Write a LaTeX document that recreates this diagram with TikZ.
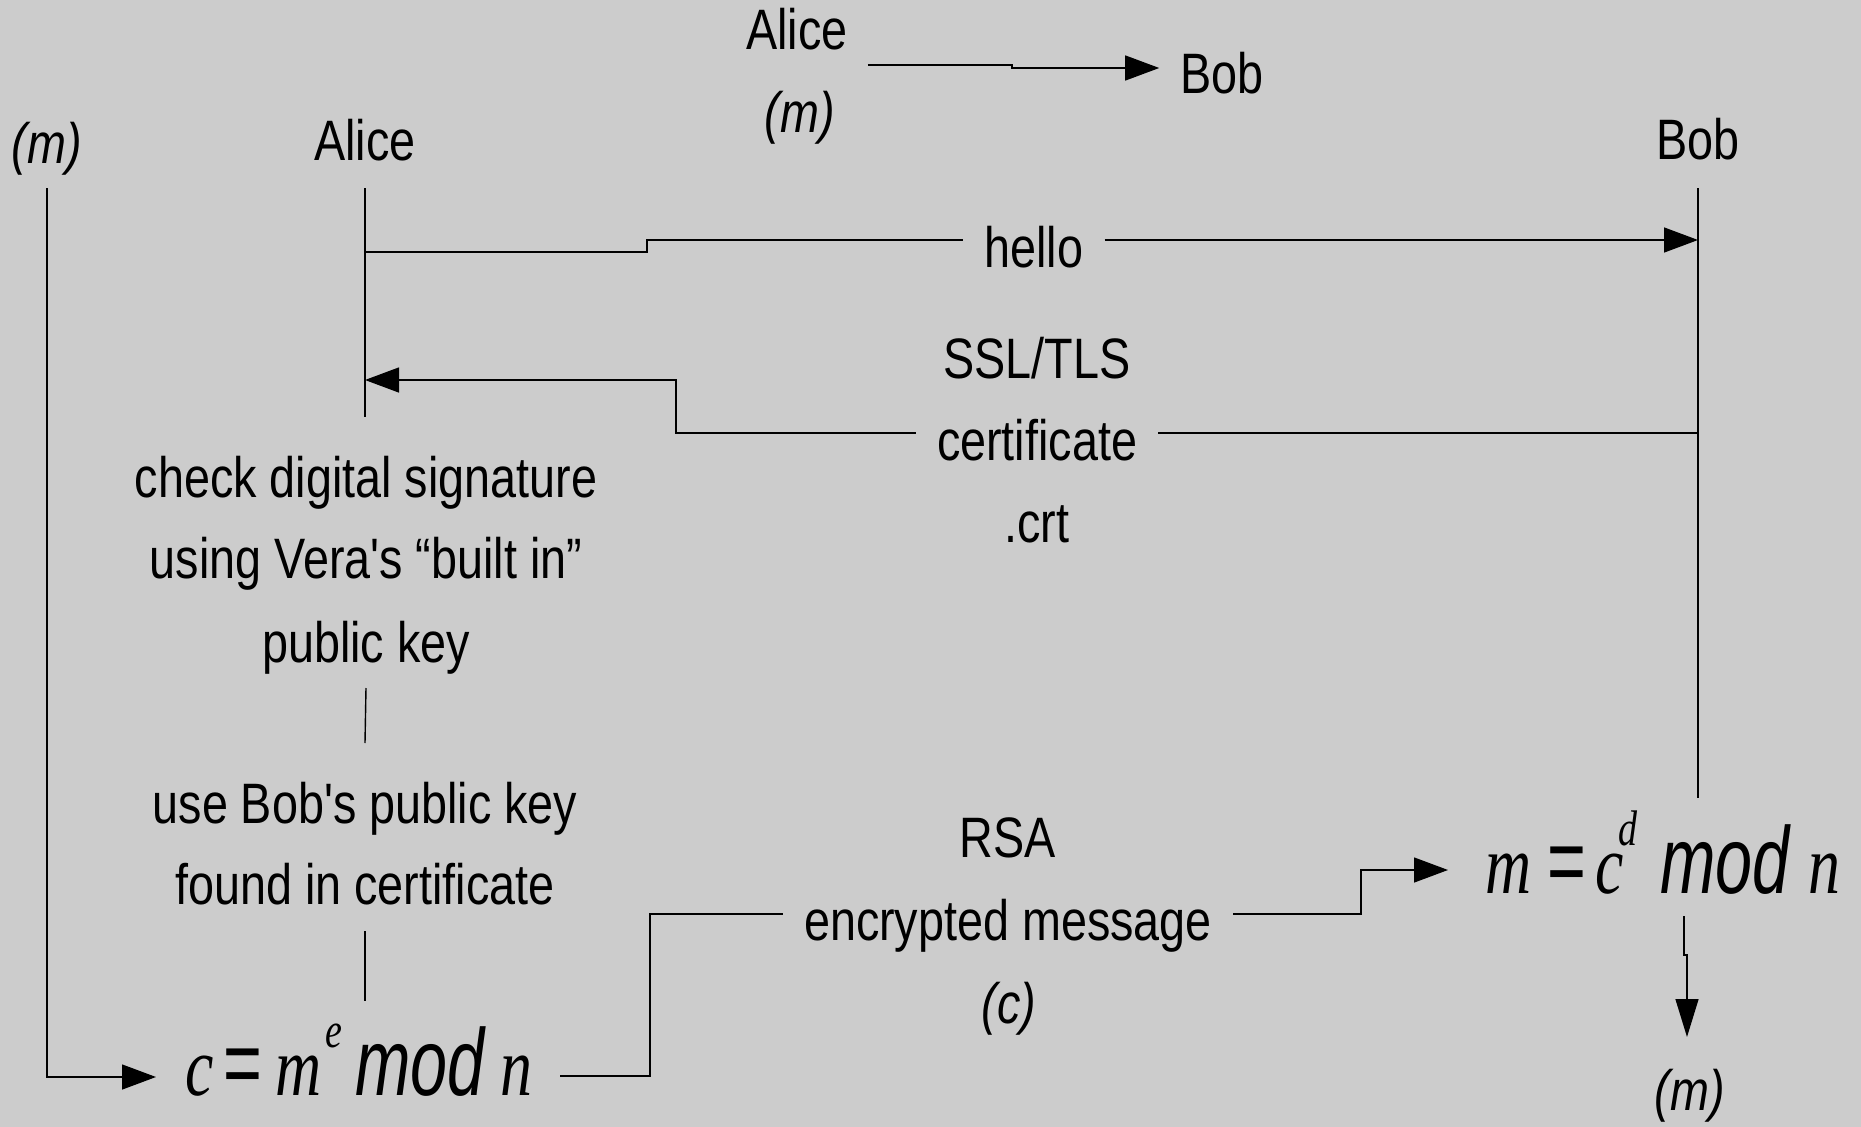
\documentclass[tikz,border=0pt]{standalone}
\usepackage{fontspec}
\usetikzlibrary{arrows.meta}
% condensed sans for the labels, condensed serif/sans for the formulas
\newfontfamily\labelfont[FakeStretch=0.82]{Liberation Sans}
\newfontfamily\eqserif[FakeStretch=0.76]{Liberation Serif}
\newfontfamily\eqsans[FakeStretch=0.70]{Liberation Sans}
\definecolor{paper}{RGB}{204,204,204}
% place a glyph group at a fixed horizontal offset inside a formula box
\newcommand\placeat[2]{\makebox[0pt][l]{\hspace*{#1pt}#2}}
\newcommand\eqvar[1]{{\fontsize{84}{84}\selectfont\eqserif\itshape #1}}
\newcommand\eqop[1]{{\fontsize{95}{95}\selectfont\eqsans #1}}
\newcommand\eqmod{{\fontsize{95}{95}\selectfont\eqsans\itshape mod}}
\newcommand\eqsup[1]{\raisebox{48pt}{\fontsize{50}{50}\selectfont\eqserif\itshape #1}}
\begin{document}
\begin{tikzpicture}[x=1pt,y=-1pt,
  txt/.style={font=\labelfont\fontsize{57}{68}\selectfont, inner sep=0pt, anchor=base},
  lbl/.style={txt, inner xsep=21pt},
  formula/.style={inner sep=0pt, anchor=base west},
  ln/.style={line width=1.4pt, black},
  arr/.style={ln, -{Triangle[length=34pt,width=25pt]}}]
\fill[paper] (0,0) rectangle (1861,1127);
\useasboundingbox (0,0) rectangle (1861,1127);

% legend
\node[txt] (aliceT) at (797,49) {Alice};
\node[txt] (msgT) at (800,132) {\itshape (m)};
\node[txt] (bobT) at (1222,93) {Bob};
\draw[arr, shorten <=20pt, shorten >=21pt] (aliceT.base east |- 0,65) -- (1012,65) -- (1012,68) -- (bobT.base west |- 0,68);

% participants
\node[txt] (msgL) at (47,163) {\itshape (m)};
\node[txt] (alice) at (365,160) {Alice};
\node[txt] (bob) at (1698,159) {Bob};

% labels
\node[lbl] (hello) at (1034,267) {hello};
\node[txt] (ssl) at (1037,378) {SSL/TLS};
\node[lbl] (cert) at (1037,460) {certificate};
\node[txt] (crt) at (1037,542) {.crt};
\node[txt] (chk1) at (366,497) {check digital signature};
\node[txt] (chk2) at (366,578) {using Vera's “built in”};
\node[txt] (chk3) at (366,662) {public key};
\node[txt] (use1) at (365,823) {use Bob's public key};
\node[txt] (use2) at (365,904) {found in certificate};
\node[txt] (rsa) at (1008,857) {RSA};
\node[lbl] (enc) at (1008,940) {encrypted message};
\node[txt] (cval) at (1009,1023) {\itshape (c)};
\node[txt] (msgB) at (1690,1110) {\itshape (m)};

% formulas
\node[formula] (encF) at (185,1095) {\placeat{0}{\eqvar{c}}\placeat{38}{\eqop{=}}\placeat{90}{\eqvar{m}}\placeat{140}{\eqsup{e}}\placeat{170}{\eqmod}\placeat{315}{\eqvar{n}}\hspace*{347pt}};
\node[formula] (decF) at (1485,893) {\placeat{0}{\eqvar{m}}\placeat{62}{\eqop{=}}\placeat{110}{\eqvar{c}}\placeat{133}{\eqsup{d}}\placeat{175}{\eqmod}\placeat{323}{\eqvar{n}}\hspace*{353pt}};

% lifelines
\draw[arr, shorten >=29pt] (msgL.base |- 0,188) -- (msgL.base |- 0,1077) -- (encF.west |- 0,1077);
\draw[ln] (alice.base |- 0,188) -- (alice.base |- 0,417);
\draw[ln] (bob.base |- 0,188) -- (bob.base |- 0,798);
\draw[ln] (chk3.base |- 0,688) -- (use1.base |- 0,743);
\draw[ln] (use2.base |- 0,931) -- (use2.base |- 0,1001);

% hello
\draw[ln] (alice.base |- 0,252) -| (647,240) -- (hello.west |- 0,240);
\draw[arr] (hello.east |- 0,240) -- (bob.base |- 0,240);

% certificate
\draw[ln] (bob.base |- 0,433) -- (cert.east |- 0,433);
\draw[arr] (cert.west |- 0,433) -| (676,380) -- (alice.base |- 0,380);

% encrypted message
\draw[ln, shorten <=28pt] (encF.east |- 0,1076) -| (650,914) -- (enc.west |- 0,914);
\draw[arr, shorten >=37pt] (enc.east |- 0,914) -| (1361,870) -- (decF.west |- 0,870);

% decrypted message
\draw[arr, -{Triangle[length=38pt,width=23pt]}] (1684,916) -- (1684,955) -- (1687,955) -- (1687,1037);
\end{tikzpicture}
\end{document}
